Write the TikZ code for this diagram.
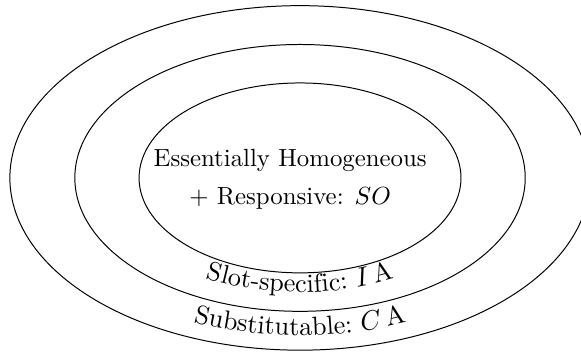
\documentclass[tikz,border=0pt]{standalone}
\usepackage{tikz}
\usetikzlibrary{shapes.geometric, decorations.text}

\tikzstyle{region} = [ellipse, draw=black, inner sep=0pt]
\tikzstyle{arclabel} = [decorate, decoration={text along path, text align=center}]

\begin{document}
\begin{tikzpicture}[
            every node/.style={text centered},
            core/.style={align=center}
        ]
            \useasboundingbox (-4.25,-2.55) rectangle (3.98,2.52);

            % Regions
            \node (outer) [region, minimum width=8.22cm, minimum height=4.88cm] at (0,0) {};
            \node (middle) [region, minimum width=6.38cm, minimum height=3.78cm] at (0,0) {};
            \node (inner) [region, minimum width=4.56cm, minimum height=2.69cm] at (0,0) {};

            % Labels
            \node (so) [core] at (-0.14,-0.02) {Essentially Homogeneous\\[3.5pt] + Responsive: $SO$};
            \path [arclabel, decoration={text={|\fontsize{10.6}{13}\selectfont|Slot-specific: {$I\,$}A}}]
                (200:2.79cm and 1.62cm) arc (200:340:2.79cm and 1.62cm);
            \path [arclabel, decoration={text={|\fontsize{10.6}{13}\selectfont|Substitutable: {$C\,$}A}}]
                (205:3.76cm and 2.23cm) arc (205:335:3.76cm and 2.23cm);
\end{tikzpicture}
\end{document}
